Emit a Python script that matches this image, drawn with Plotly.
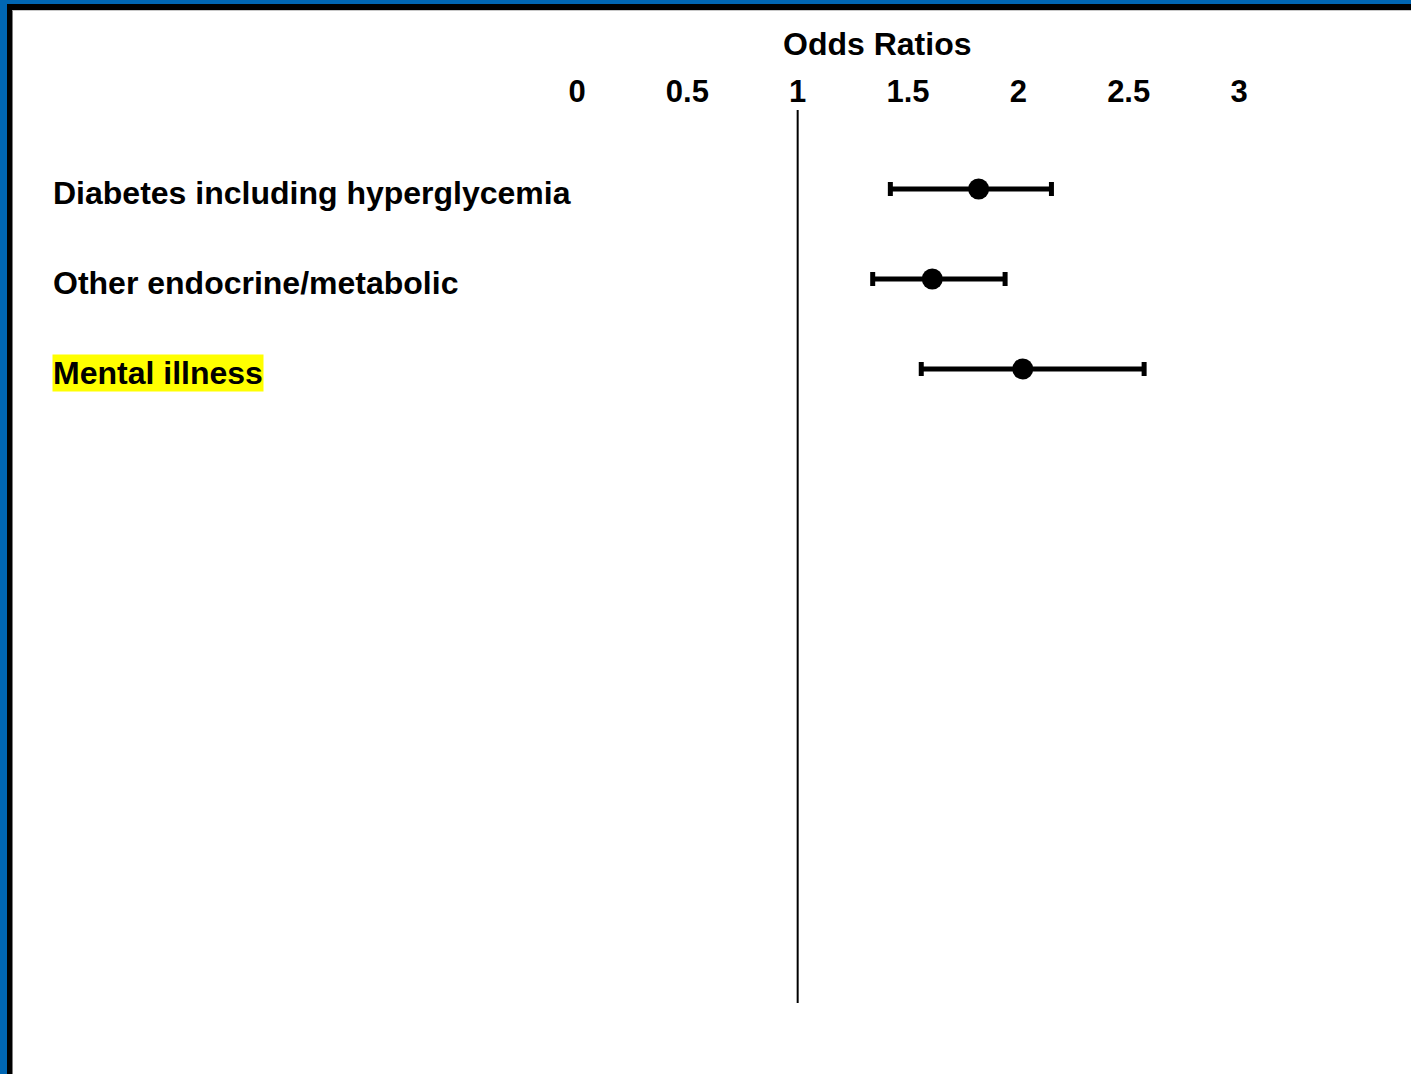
import plotly.graph_objects as go

# Odds ratios with 95% confidence intervals
conditions = ["Diabetes including hyperglycemia", "Other endocrine/metabolic", "Mental illness"]
odds_ratio = [1.82, 1.61, 2.02]
ci_low = [1.42, 1.34, 1.56]
ci_high = [2.15, 1.94, 2.57]
highlighted = [False, False, True]

tick_values = [0, 0.5, 1, 1.5, 2, 2.5, 3]
tick_text = ["0", "0.5", "1", "1.5", "2", "2.5", "3"]

W, H = 1411, 1074
MT, MB = 109, 71
FONT = "Liberation Sans, Arial, sans-serif"


def px_x(p):
    return p / W


def px_y(p):
    return (H - MB - p) / (H - MT - MB)


rows = list(range(len(conditions)))

fig = go.Figure()
fig.add_trace(go.Scatter(
    x=odds_ratio,
    y=rows,
    mode="markers",
    marker=dict(size=21, color="black"),
    error_x=dict(
        type="data",
        symmetric=False,
        array=[h - m for h, m in zip(ci_high, odds_ratio)],
        arrayminus=[m - l for m, l in zip(odds_ratio, ci_low)],
        color="black",
        thickness=5,
        width=7,
    ),
    hoverinfo="skip",
    showlegend=False,
))

annotations = []
for r, name, hl in zip(rows, conditions, highlighted):
    annotations.append(dict(
        x=px_x(52), xref="paper", xanchor="left",
        y=r, yref="y", yanchor="middle", yshift=-4,
        text=name, showarrow=False,
        font=dict(family=FONT, size=32, color="black", weight="bold"),
        bgcolor="#ffff00" if hl else "rgba(0,0,0,0)",
        borderpad=0,
    ))
annotations.append(dict(
    x=px_x(877), xref="paper", xanchor="center",
    y=px_y(44), yref="paper", yanchor="middle",
    text="Odds Ratios", showarrow=False,
    font=dict(family=FONT, size=32, color="black", weight="bold"),
))

shapes = [
    # reference line at OR = 1
    dict(type="line", xref="x", yref="paper", x0=1, x1=1, y0=0, y1=px_y(110),
         line=dict(color="black", width=2)),
    # frame: blue outer band, black inner band
    dict(type="rect", xref="paper", yref="paper", x0=px_x(0), x1=px_x(7),
         y0=px_y(H), y1=px_y(0), line=dict(width=0), fillcolor="#0066b3", layer="above"),
    dict(type="rect", xref="paper", yref="paper", x0=px_x(0), x1=px_x(W),
         y0=px_y(4), y1=px_y(0), line=dict(width=0), fillcolor="#0066b3", layer="above"),
    dict(type="rect", xref="paper", yref="paper", x0=px_x(7), x1=px_x(12.5),
         y0=px_y(H), y1=px_y(4), line=dict(width=0), fillcolor="black", layer="above"),
    dict(type="rect", xref="paper", yref="paper", x0=px_x(7), x1=px_x(W),
         y0=px_y(10), y1=px_y(4), line=dict(width=0), fillcolor="black", layer="above"),
    dict(type="rect", xref="paper", yref="paper", x0=px_x(12.5), x1=px_x(W),
         y0=px_y(11), y1=px_y(10), line=dict(width=0), fillcolor="#c8c8c8", layer="above"),
]

px_per_unit = 220.67
x0_px = 577
row_px = 90
row0_px = 189

fig.update_layout(
    width=W, height=H,
    margin=dict(l=0, r=0, t=MT, b=MB, pad=0),
    paper_bgcolor="white", plot_bgcolor="white",
    xaxis=dict(
        range=[-x0_px / px_per_unit, (W - x0_px) / px_per_unit],
        side="top",
        tickvals=tick_values, ticktext=tick_text,
        tickfont=dict(family=FONT, size=31, color="black", weight="bold"),
        ticks="", ticklen=0,
        showgrid=False, zeroline=False, showline=False,
        fixedrange=True,
    ),
    yaxis=dict(
        range=[(H - MB - row0_px) / row_px, -(row0_px - MT) / row_px],
        showticklabels=False, showgrid=False, zeroline=False, showline=False,
        fixedrange=True,
    ),
    annotations=annotations,
    shapes=shapes,
)

fig.write_html("out.html")
